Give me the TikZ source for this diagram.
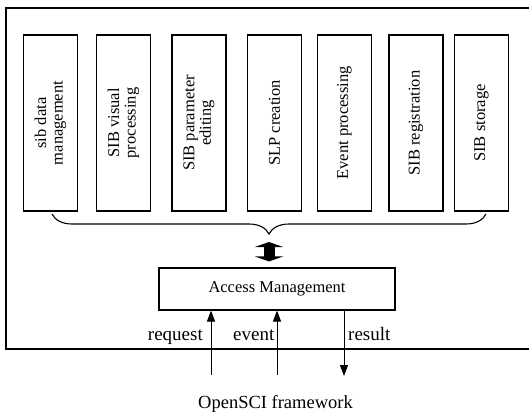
\documentclass[tikz,border=0pt]{standalone}
\usepackage{fontspec}
\setmainfont{Liberation Serif}
\usepackage{tikz}
\usetikzlibrary{arrows.meta,positioning,decorations.pathreplacing}

\begin{document}
\begin{tikzpicture}[
    x=1pt, y=-1pt,
    every node/.style = {inner sep=0pt},
    modbox/.style = {draw, line width=1.1pt, rotate=90, minimum width=176pt,
                     minimum height=54pt, align=center,
                     font=\fontsize{16.5}{16.5}\selectfont},
    lbl/.style = {font=\fontsize{19}{19}\selectfont},
    >={Triangle[width=8pt,length=11pt]}
  ]
  \useasboundingbox (0,0) rectangle (529,413);
  % outer frame
  \draw[line width=1.2pt] (545,8) -- (6,8) -- (6,349) -- (545,349);

  % modules
  \node[modbox] (m1) at (50.5,123) {sib data\\management};
  \node[modbox] (m2) at (123.5,123) {SIB visual\\processing};
  \node[modbox] (m3) at (199,123) {SIB parameter\\editing};
  \node[modbox] (m4) at (274.5,123) {SLP creation};
  \node[modbox] (m5) at (344.5,123) {Event processing};
  \node[modbox] (m6) at (416,123) {SIB registration};
  \node[modbox] (m7) at (481.5,123) {SIB storage};

  % brace below the modules
  \coordinate (bl) at (52,214);
  \coordinate (br) at (486,214);
  \draw[line width=1.1pt, decorate, decoration={brace, amplitude=20pt}] (br) -- (bl);
  \coordinate (tip) at (269,236);

  % access management
  \node[draw, line width=1.1pt, minimum width=236pt, minimum height=42pt,
        font=\fontsize{16.5}{16.5}\selectfont] (acc) at (277,289) {Access Management};
  \draw[line width=11pt, {Triangle[width=28pt,length=5pt]}-{Triangle[width=28pt,length=5pt]},
        shorten <=6pt, shorten >=6pt] (tip) -- (tip |- acc.north);

  % framework side
  \coordinate (rq) at (211,375);
  \coordinate (ev) at (277,375);
  \coordinate (rs) at (344,376);
  \draw[->, line width=1pt] (rq) -- (rq |- acc.south);
  \draw[->, line width=1pt] (ev) -- (ev |- acc.south);
  \draw[->, line width=1pt] (rs |- acc.south) -- (rs);
  \node[lbl, anchor=base east] at (203,340) {request};
  \node[lbl, anchor=base west] at (233,340) {event};
  \node[lbl, anchor=base west] at (348,340) {result};
  \node[font=\fontsize{18.5}{18.5}\selectfont, anchor=base] (fw) at (275.5,408) {OpenSCI framework};
\end{tikzpicture}
\end{document}
